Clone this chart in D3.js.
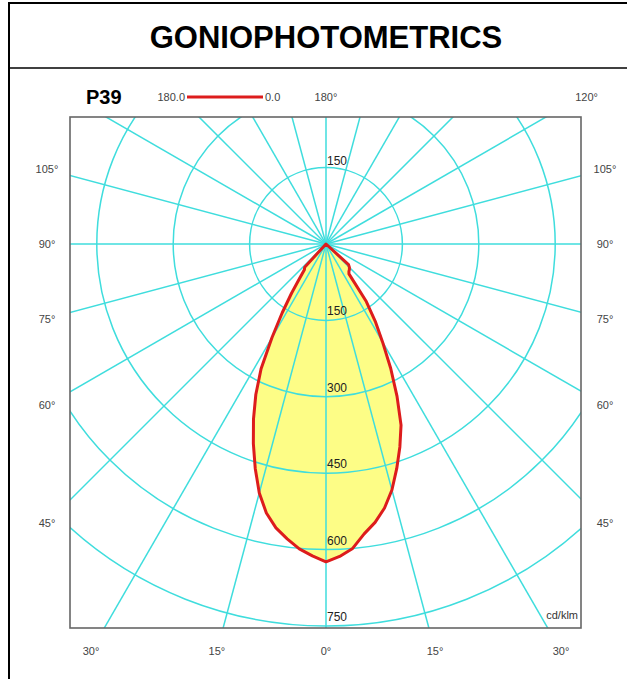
<!doctype html>
<html>
<head>
  <meta charset="utf-8">
  <title>Goniophotometrics P39</title>
  <script src="https://d3js.org/d3.v7.min.js"></script>
  <style>
    body { margin:0; background:#fff; font-family:Arial, "Liberation Sans", sans-serif; }
    svg { display:block; }
    .grid { fill:none; stroke:#3fdddd; stroke-width:1.5 }
    .lbl  { font-size:11px; fill:#444 }
    .ring { font-size:12px; fill:#222 }
  </style>
</head>
<body>
  <svg id="chart" width="627" height="679"></svg>

  <script>
    // gamma angles (deg from nadir) and intensities (cd/klm) for both planes
    const gammas = [0, 2.5, 5, 7.5, 10, 12.5, 15, 17.5, 20, 22.5, 25, 27.5, 30,
                    32.5, 35, 37.5, 40, 42.5, 45, 47.5, 50, 52.5, 55, 57.5, 60];
    const c0   = [624, 614, 600, 574, 555, 531, 500, 462, 424, 385, 330, 275, 222,
                  180, 138, 74, 70, 68, 65, 60, 0, 0, 0, 0, 0];
    const c180 = [624, 613, 601, 584, 566, 541, 506, 462, 417, 372, 326, 276, 212,
                  160, 118, 85, 66, 62, 0, 0, 0, 0, 0, 0, 0];

    const ringValues  = [150, 300, 450, 600, 750];
    const spokeAngles = d3.range(0, 360, 15);
    const sideLabels  = [105, 90, 75, 60, 45];
    const bottomLabels = [-30, -15, 0, 15, 30];
    const topLabels   = [180, 120];

    const svg = d3.select("#chart");
    const cx = 326, cy = 244;
    const plot = { x0:70, y0:117, x1:581, y1:628 };
    const lblBox = { x0:47, y0:97, x1:605, y1:651 };

    const r = d3.scaleLinear().domain([0, 750]).range([0, 382]);
    const rad = d => d * Math.PI / 180;
    // angle measured from nadir, positive to the right (C0 side)
    const px = (g, v) => cx + Math.sin(rad(g)) * r(v);
    const py = (g, v) => cy + Math.cos(rad(g)) * r(v);

    // outer frame + header
    svg.append("rect").attr("x", 9).attr("y", 3).attr("width", 640).attr("height", 700)
      .attr("fill", "none").attr("stroke", "#000").attr("stroke-width", 2);
    svg.append("line").attr("x1", 9).attr("x2", 627).attr("y1", 68).attr("y2", 68)
      .attr("stroke", "#000").attr("stroke-width", 1.5);
    svg.append("text").attr("x", 326).attr("y", 48).attr("text-anchor", "middle")
      .style("font-size", "31px").style("font-weight", "bold").text("GONIOPHOTOMETRICS");

    svg.append("defs").append("clipPath").attr("id", "clip")
      .append("rect").attr("x", plot.x0).attr("y", plot.y0)
      .attr("width", plot.x1 - plot.x0).attr("height", plot.y1 - plot.y0);

    const g = svg.append("g").attr("clip-path", "url(#clip)");

    // distribution: C0 on the right, C180 on the left
    const pts = gammas.map((a, i) => [px(a, c0[i]), py(a, c0[i])])
      .concat(gammas.slice().reverse().map((a, i) => {
        const v = c180[gammas.length - 1 - i];
        return [px(-a, v), py(-a, v)];
      }));
    const line = d3.line().curve(d3.curveLinearClosed);

    g.append("path").attr("d", line(pts)).attr("fill", "#fdfd86").attr("stroke", "none");

    // grid
    g.selectAll("circle.grid").data(ringValues).enter().append("circle")
      .attr("class", "grid").attr("cx", cx).attr("cy", cy).attr("r", d => r(d));
    g.selectAll("line.grid").data(spokeAngles).enter().append("line")
      .attr("class", "grid").attr("x1", cx).attr("y1", cy)
      .attr("x2", d => px(d, 1200)).attr("y2", d => py(d, 1200));

    g.append("path").attr("d", line(pts)).attr("fill", "none")
      .attr("stroke", "#dd1c1c").attr("stroke-width", 3).attr("stroke-linejoin", "round");

    svg.append("rect").attr("x", plot.x0).attr("y", plot.y0)
      .attr("width", plot.x1 - plot.x0).attr("height", plot.y1 - plot.y0)
      .attr("fill", "none").attr("stroke", "#666").attr("stroke-width", 1.6);

    // ring labels
    svg.selectAll("text.ring").data(ringValues).enter().append("text")
      .attr("class", "ring").attr("x", cx + 1).attr("y", d => cy + r(d) - 5).text(d => d);
    svg.append("text").attr("class", "ring").attr("x", cx + 1).attr("y", cy - r(150) - 3).text(150);

    // angle labels placed where each spoke meets the label box
    function labelPos(a) {
      const dx = Math.sin(rad(a)), dy = Math.cos(rad(a));
      const ts = [];
      if (dx > 1e-6) ts.push((lblBox.x1 - cx) / dx);
      if (dx < -1e-6) ts.push((lblBox.x0 - cx) / dx);
      if (dy > 1e-6) ts.push((lblBox.y1 - cy) / dy);
      if (dy < -1e-6) ts.push((lblBox.y0 - cy) / dy);
      const t = Math.min(...ts);
      return [cx + dx * t, cy + dy * t];
    }
    const angLabels = sideLabels.map(a => ({a: -a, t: a}))
      .concat(sideLabels.map(a => ({a: a, t: a})))
      .concat(bottomLabels.map(a => ({a: a, t: Math.abs(a)})))
      .concat(topLabels.map(a => ({a: a, t: a})));
    svg.selectAll("text.lbl").data(angLabels).enter().append("text")
      .attr("class", "lbl").attr("text-anchor", "middle")
      .attr("x", d => labelPos(d.a)[0] + (d.t === 120 ? 6 : 0))
      .attr("y", d => labelPos(d.a)[1] + 4)
      .text(d => d.t + "°");

    // header row: name and legend
    svg.append("text").attr("x", 86).attr("y", 104)
      .style("font-family", "'Liberation Sans Narrow', 'Arial Narrow', sans-serif")
      .style("font-size", "20px").style("font-weight", "bold").text("P39");
    svg.append("text").attr("class", "lbl").attr("x", 185).attr("y", 101)
      .attr("text-anchor", "end").text("180.0");
    svg.append("line").attr("x1", 187).attr("x2", 263).attr("y1", 97).attr("y2", 97)
      .attr("stroke", "#dd1c1c").attr("stroke-width", 3);
    svg.append("text").attr("class", "lbl").attr("x", 265).attr("y", 101).text("0.0");

    svg.append("text").attr("x", 578).attr("y", 619).attr("text-anchor", "end")
      .style("font-size", "11px").style("fill", "#333").text("cd/klm");
  </script>
</body>
</html>
